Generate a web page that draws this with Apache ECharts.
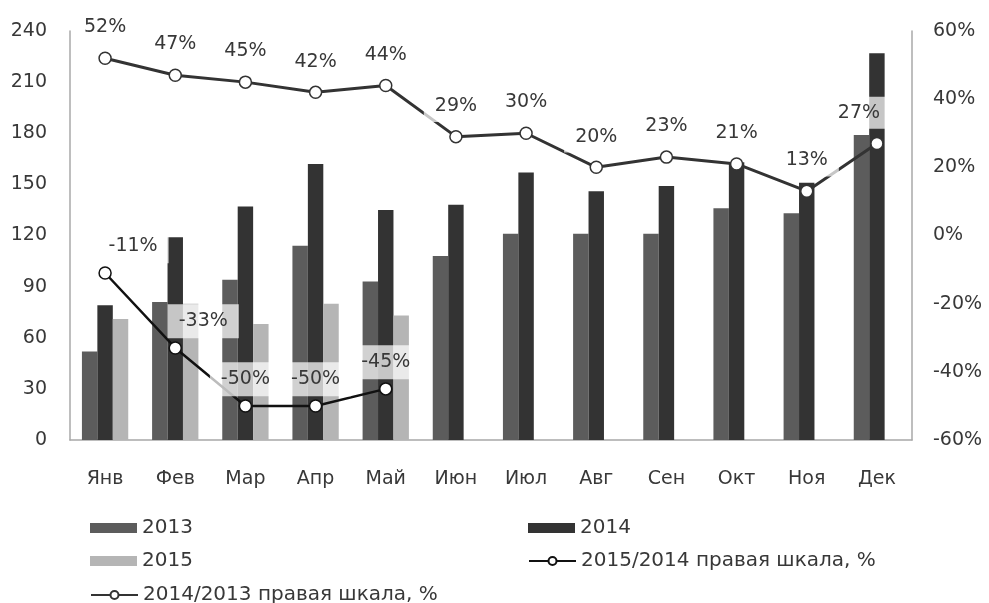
<!DOCTYPE html>
<html>
<head>
<meta charset="utf-8">
<script src="https://cdn.jsdelivr.net/npm/echarts@6/dist/echarts.min.js"></script>
<style>
html,body{margin:0;padding:0;background:#fff;}
#chart{width:989px;height:603px;}
</style>
</head>
<body>
<div id="chart"></div>
<script>
var categories = ['Янв','Фев','Мар','Апр','Май','Июн','Июл','Авг','Сен','Окт','Ноя','Дек'];
var v2013 = [52, 81, 94, 114, 93, 108, 121, 121, 121, 136, 133, 179];
var v2014 = [79, 119, 137, 162, 135, 138, 157, 146, 149, 163, 151, 227];
var v2015 = [71, 80, 68, 80, 73, null, null, null, null, null, null, null];
var r1514 = [-11, -33, -50, -50, -45, null, null, null, null, null, null, null];
var r1413 = [52, 47, 45, 42, 44, 29, 30, 20, 23, 21, 13, 27];
var leftTicks = {min: 0, max: 240, interval: 30};
var rightTicks = {min: -60, max: 60, interval: 20};

var FONT = 'DejaVu Sans';
var TXT = '#383838';
var FS = 19;
var C2013 = '#5c5c5c', C2014 = '#333333', C2015 = '#b5b5b5';

var labelBg = 'rgba(255,255,255,0.72)';

var d1514 = r1514.map(function (v, i) {
  if (i < 2) return {value: v, label: {offset: [28, 0]}};
  return v;
});
var d1413 = r1413.map(function (v, i) {
  if (i === 11) return {value: v, label: {offset: [-18, 0]}};
  return v;
});

function leg(name, left, top, isBar) {
  var o = {
    data: [isBar ? {name: name, icon: 'rect'} : name], left: left, top: top, padding: 0,
    itemWidth: 47, itemHeight: 10, itemGap: 0,
    textStyle: {fontFamily: FONT, fontSize: 20, color: TXT, lineHeight: 20},
    selectedMode: false
  };
  return o;
}

var chart = echarts.init(document.getElementById('chart'), null, {renderer: 'canvas'});
chart.setOption({
  animation: false,
  backgroundColor: '#fff',
  textStyle: {fontFamily: FONT},
  grid: {left: 70, right: 77, top: 31, bottom: 163, containLabel: false},
  legend: [
    leg('2013', 90, 518, true),
    leg('2015', 90, 551, true),
    leg('2014/2013 правая шкала, %', 90, 585, false),
    leg('2014', 528, 518, true),
    leg('2015/2014 правая шкала, %', 528, 551, false)
  ],
  xAxis: {
    type: 'category', data: categories,
    axisLine: {lineStyle: {color: '#a8a8a8', width: 1.5}},
    axisTick: {show: false},
    axisLabel: {fontFamily: FONT, fontSize: FS, color: TXT, margin: 30}
  },
  yAxis: [
    {
      type: 'value', min: leftTicks.min, max: leftTicks.max, interval: leftTicks.interval,
      splitLine: {show: false},
      axisLine: {show: true, lineStyle: {color: '#a8a8a8', width: 1.5}},
      axisTick: {show: false},
      axisLabel: {fontFamily: FONT, fontSize: FS, color: TXT, margin: 23}
    },
    {
      type: 'value', min: rightTicks.min, max: rightTicks.max, interval: rightTicks.interval,
      position: 'right',
      splitLine: {show: false},
      axisLine: {show: true, lineStyle: {color: '#a8a8a8', width: 1.5}},
      axisTick: {show: false},
      axisLabel: {fontFamily: FONT, fontSize: FS, color: TXT, margin: 21, formatter: '{value}%'}
    }
  ],
  series: [
    {name: '2013', type: 'bar', data: v2013, barGap: '0%', barCategoryGap: '34%', itemStyle: {color: C2013}},
    {name: '2014', type: 'bar', data: v2014, itemStyle: {color: C2014}},
    {name: '2015', type: 'bar', data: v2015, itemStyle: {color: C2015}},
    {
      name: '2015/2014 правая шкала, %', type: 'line', yAxisIndex: 1, data: d1514,
      z: 5,
      symbol: 'circle', symbolSize: 12,
      lineStyle: {color: '#111', width: 2.5},
      itemStyle: {color: '#fff', borderColor: '#111', borderWidth: 1.5},
      label: {
        show: true, position: 'top', distance: 3, formatter: '{c}%',
        fontFamily: FONT, fontSize: FS, color: TXT, lineHeight: 20,
        backgroundColor: labelBg, padding: [7, 11]
      }
    },
    {
      name: '2014/2013 правая шкала, %', type: 'line', yAxisIndex: 1, data: d1413,
      z: 4,
      symbol: 'circle', symbolSize: 12,
      lineStyle: {color: '#333', width: 3},
      itemStyle: {color: '#fff', borderColor: '#333', borderWidth: 1.5},
      label: {
        show: true, position: 'top', distance: 8, formatter: '{c}%',
        fontFamily: FONT, fontSize: FS, color: TXT, lineHeight: 20,
        backgroundColor: labelBg, padding: [6, 11]
      }
    }
  ]
});
</script>
</body>
</html>
